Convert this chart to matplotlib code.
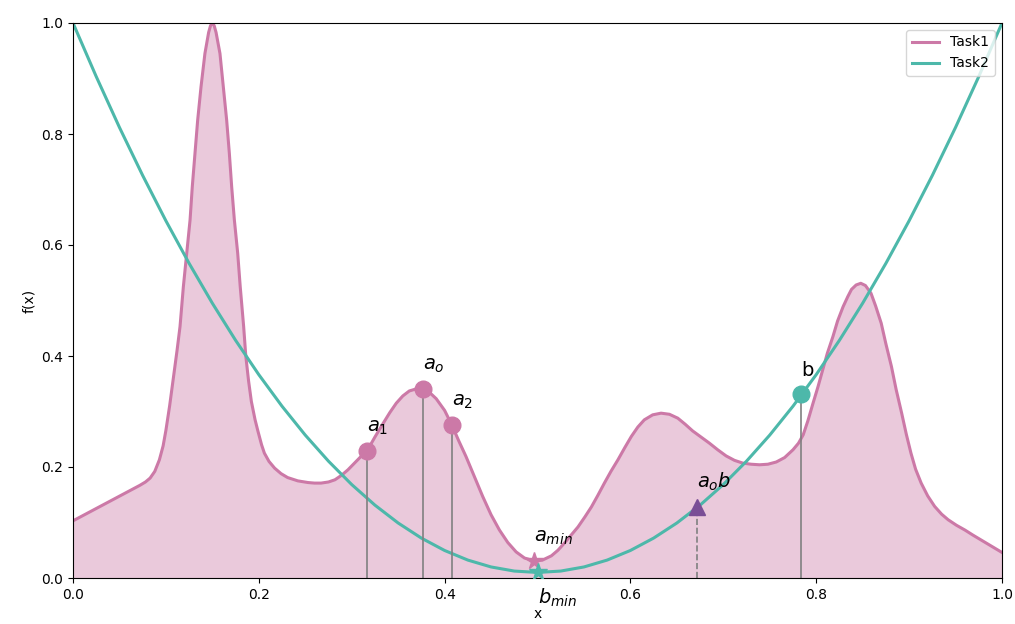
import matplotlib
matplotlib.use("Agg")
import matplotlib.pyplot as plt

# Task1 objective, sampled along x
task1_x = [0.000, 0.018, 0.036, 0.054, 0.072, 0.078, 0.083, 0.088, 0.093, 0.097,
           0.100, 0.104, 0.108, 0.112, 0.1152, 0.1188, 0.1224, 0.126, 0.1284, 0.1313,
           0.1342, 0.1378, 0.142, 0.146, 0.148, 0.150, 0.152, 0.154, 0.1582, 0.1618,
           0.1654, 0.1683, 0.1708, 0.1737, 0.1773, 0.180, 0.1837, 0.186, 0.189, 0.192,
           0.196, 0.199, 0.203, 0.206, 0.211, 0.217, 0.224, 0.231, 0.242, 0.253,
           0.260, 0.267, 0.275, 0.282, 0.289, 0.296, 0.303, 0.310, 0.3165, 0.325,
           0.334, 0.341, 0.348, 0.355, 0.362, 0.370, 0.3775, 0.384, 0.391, 0.400,
           0.408, 0.415, 0.423, 0.432, 0.441, 0.450, 0.459, 0.468, 0.477, 0.486,
           0.496, 0.505, 0.515, 0.522, 0.529, 0.536, 0.5436, 0.551, 0.558, 0.565,
           0.572, 0.579, 0.5866, 0.594, 0.601, 0.608, 0.615, 0.624, 0.633, 0.642,
           0.651, 0.659, 0.667, 0.676, 0.685, 0.694, 0.703, 0.712, 0.721, 0.730,
           0.739, 0.748, 0.757, 0.766, 0.775, 0.781, 0.786, 0.791, 0.7966, 0.802,
           0.807, 0.812, 0.818, 0.823, 0.829, 0.834, 0.838, 0.843, 0.848, 0.853,
           0.859, 0.864, 0.870, 0.875, 0.881, 0.886, 0.892, 0.897, 0.902, 0.907,
           0.913, 0.920, 0.9275, 0.935, 0.942, 0.951, 0.960, 0.969, 0.978, 0.989,
           1.000]
task1_y = [0.103, 0.119, 0.135, 0.151, 0.167, 0.173, 0.180, 0.192, 0.213, 0.238,
           0.266, 0.310, 0.360, 0.410, 0.453, 0.525, 0.585, 0.645, 0.705, 0.765,
           0.825, 0.885, 0.945, 0.983, 0.995, 1.000, 0.995, 0.983, 0.945, 0.885,
           0.825, 0.765, 0.705, 0.645, 0.585, 0.525, 0.453, 0.400, 0.355, 0.318,
           0.285, 0.265, 0.240, 0.225, 0.210, 0.198, 0.188, 0.181, 0.175, 0.172,
           0.171, 0.171, 0.173, 0.177, 0.185, 0.195, 0.207, 0.219, 0.229, 0.254,
           0.279, 0.298, 0.315, 0.328, 0.337, 0.341, 0.340, 0.334, 0.323, 0.302,
           0.275, 0.248, 0.219, 0.183, 0.147, 0.114, 0.0865, 0.064, 0.047, 0.036,
           0.031, 0.032, 0.040, 0.050, 0.063, 0.077, 0.092, 0.110, 0.128, 0.149,
           0.171, 0.192, 0.213, 0.235, 0.255, 0.272, 0.285, 0.294, 0.297, 0.295,
           0.288, 0.277, 0.265, 0.254, 0.243, 0.231, 0.220, 0.212, 0.207, 0.205,
           0.204, 0.205, 0.209, 0.217, 0.231, 0.243, 0.258, 0.283, 0.315, 0.345,
           0.375, 0.405, 0.435, 0.463, 0.489, 0.507, 0.520, 0.528, 0.531, 0.527,
           0.513, 0.490, 0.459, 0.422, 0.381, 0.340, 0.297, 0.259, 0.225, 0.196,
           0.171, 0.148, 0.129, 0.115, 0.105, 0.095, 0.0865, 0.077, 0.068, 0.057,
           0.046]

# Task2 objective, sampled along x
task2_x = [0.000, 0.025, 0.050, 0.075, 0.100, 0.125, 0.150, 0.175, 0.200, 0.225,
           0.250, 0.275, 0.300, 0.325, 0.350, 0.375, 0.400, 0.425, 0.450, 0.475,
           0.500, 0.525, 0.550, 0.575, 0.600, 0.625, 0.650, 0.675, 0.700, 0.725,
           0.750, 0.775, 0.800, 0.825, 0.850, 0.875, 0.900, 0.925, 0.950, 0.975,
           1.000]
task2_y = [1.000, 0.9035, 0.8119, 0.7253, 0.6436, 0.5669, 0.4951, 0.4283, 0.3664, 0.3095,
           0.2575, 0.2105, 0.1684, 0.1313, 0.0991, 0.0719, 0.0496, 0.0323, 0.0199, 0.0125,
           0.0100, 0.0125, 0.0199, 0.0323, 0.0496, 0.0719, 0.0991, 0.1313, 0.1684, 0.2105,
           0.2575, 0.3095, 0.3664, 0.4283, 0.4951, 0.5669, 0.6436, 0.7253, 0.8119, 0.9035,
           1.000]

# Sampled points on Task1
a_labels = [r"$a_1$", r"$a_o$", r"$a_2$"]
a_x = [0.3165, 0.3768, 0.408]
a_y = [0.229, 0.340, 0.275]
a_min = (0.496, 0.031)

# Points on Task2
b_pt = (0.784, 0.332)
b_min = (0.500, 0.010)
ab_pt = (0.672, 0.128)

PINK = "#CC79A7"
TEAL = "#4DB8AA"
PURPLE = "#7A4E96"
GREY = "#808080"

fig = plt.figure(figsize=(10.15, 6.24), dpi=100)
ax = fig.add_axes([73 / 1015, 46 / 624, 929 / 1015, 555 / 624])

ax.fill_between(task1_x, 0, task1_y, color=PINK, alpha=0.4, linewidth=0)
ax.plot(task1_x, task1_y, color=PINK, lw=2.2, label="Task1")
ax.plot(task2_x, task2_y, color=TEAL, lw=2.2, label="Task2")

# stems under sampled points
for xv, yv in zip(a_x, a_y):
    ax.vlines(xv, 0, yv, color=GREY, lw=1.2, zorder=2)
ax.vlines(b_pt[0], 0, b_pt[1], color=GREY, lw=1.2, zorder=2)
ax.vlines(ab_pt[0], 0, ab_pt[1], color=GREY, lw=1.2, linestyles="--", zorder=2)

ax.plot(a_x, a_y, "o", color=PINK, ms=12, zorder=4)
for lab, xv, yv in zip(a_labels, a_x, a_y):
    ax.text(xv, yv + 0.025, lab, fontsize=14, ha="left", va="bottom")

ax.plot(*a_min, "*", color=PINK, ms=13, zorder=4)
ax.text(a_min[0], a_min[1] + 0.025, r"$a_{min}$", fontsize=14, ha="left", va="bottom")

ax.plot(*b_pt, "o", color=TEAL, ms=12, zorder=4)
ax.text(b_pt[0], b_pt[1] + 0.025, "b", fontsize=14, ha="left", va="bottom")

ax.plot(*b_min, "*", color=TEAL, ms=13, zorder=4)
ax.text(b_min[0], b_min[1] - 0.025, r"$b_{min}$", fontsize=14, ha="left", va="top")

ax.plot(*ab_pt, "^", color=PURPLE, ms=12, zorder=4)
ax.text(ab_pt[0], ab_pt[1] + 0.025, r"$a_ob$", fontsize=14, ha="left", va="bottom")

ax.set_xlim(0, 1)
ax.set_ylim(0, 1)
ax.set_xlabel("x")
ax.set_ylabel("f(x)")
ax.legend(loc="upper right")

fig.savefig("out.png", dpi=100)
